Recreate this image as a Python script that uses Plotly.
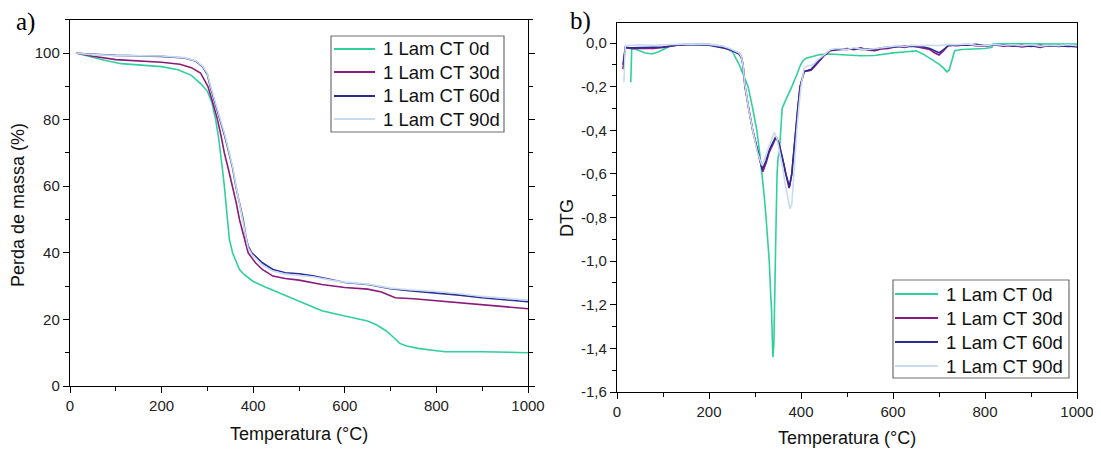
import plotly.graph_objects as go

# ---------------- data: TGA (panel a) ----------------
tga_0d_x = [13, 40, 75, 112, 150, 200, 236, 265, 287, 300, 310, 318, 324, 329, 333, 337, 340, 343, 348, 355,
            362, 370, 380, 393, 400, 425, 450, 500, 550, 600, 650, 670, 690, 705, 720, 735, 760, 800, 820, 900, 1000]
tga_0d_y = [100, 99.0, 97.8, 96.8, 96.4, 95.9, 95.0, 93.3, 90.6, 88.5, 85, 80, 75, 70, 65, 60, 55, 50, 44, 40,
            37.5, 35, 33.5, 32, 31.4, 29.8, 28.4, 25.4, 22.6, 21.0, 19.5, 18.3, 16.6, 14.8, 12.8, 12.0, 11.3, 10.6, 10.3, 10.3, 10.0]

tga_30d_x = [13, 50, 100, 150, 200, 240, 265, 285, 301, 312, 322, 330, 337, 346, 355, 363, 370, 380, 389, 405,
             420, 443, 470, 500, 550, 600, 650, 680, 700, 710, 750, 800, 900, 1000]
tga_30d_y = [100, 99, 98, 97.6, 97.2, 96.6, 95.6, 94, 90, 85, 80, 75, 70, 65, 60, 55, 50, 45, 40, 37,
             35, 33, 32.3, 31.8, 30.5, 29.6, 29.1, 28.2, 27, 26.5, 26.2, 25.6, 24.4, 23.2]

tga_60d_x = [13, 40, 100, 200, 250, 275, 290, 300, 306, 317, 328, 338, 347, 355, 362, 370, 378, 384, 389, 397,
             405, 420, 443, 470, 500, 530, 570, 600, 650, 675, 700, 740, 800, 850, 900, 1000]
tga_60d_y = [100, 99.7, 99.3, 99.0, 98.5, 97.5, 95.8, 93.5, 90, 85, 80, 75, 70, 65.5, 60, 55, 50, 45, 42, 40,
             39, 37, 35, 34, 33.7, 33.1, 32, 31.1, 30.5, 29.9, 29.2, 28.6, 28, 27.3, 26.5, 25.3]

tga_90d_x = [13, 40, 100, 200, 250, 275, 290, 300, 306, 317, 328, 338, 347, 355, 362, 370, 378, 384, 389, 397,
             405, 420, 443, 470, 500, 530, 570, 600, 650, 675, 700, 740, 800, 850, 900, 1000]
tga_90d_y = [100, 99.6, 99.2, 99.1, 98.6, 97.6, 96, 93.8, 90.5, 85.5, 80.5, 75.5, 70.5, 66, 60.5, 55, 50, 45, 41.5, 39.5,
             38.3, 36.3, 34.5, 33.6, 33.2, 32.8, 31.8, 31.2, 30.6, 30, 29.4, 28.9, 28.4, 27.7, 26.9, 25.8]

# ---------------- data: DTG (panel b) ----------------
dtg_0d_x = [30, 32, 42, 60, 76, 91, 105, 118, 150, 200, 230, 251, 266, 276, 285, 295, 304, 310, 315.6, 320, 324,
            328, 331, 334, 336, 337.5, 339, 341, 343, 344.5, 346, 348, 350, 353, 356, 359, 365, 372, 380, 390,
            399, 405, 411, 425, 441, 460, 500, 530, 560, 600, 630, 650, 665, 677, 690, 700, 710, 717, 722, 728,
            734, 750, 800, 815, 818, 850, 900, 950, 1000]
dtg_0d_y = [-0.18, -0.025, -0.03, -0.045, -0.05, -0.04, -0.025, -0.012, -0.005, -0.006, -0.015, -0.04, -0.1, -0.15,
            -0.2, -0.3, -0.4, -0.5, -0.6, -0.7, -0.8, -0.9, -1.0, -1.15, -1.22, -1.35, -1.44, -1.38, -1.2, -1.0,
            -0.8, -0.6, -0.53, -0.5, -0.38, -0.3, -0.27, -0.24, -0.2, -0.15, -0.1, -0.08, -0.07, -0.062, -0.053,
            -0.05, -0.055, -0.058, -0.057, -0.045, -0.04, -0.036, -0.05, -0.066, -0.085, -0.097, -0.115, -0.132,
            -0.125, -0.08, -0.035, -0.03, -0.025, -0.02, -0.003, -0.003, -0.004, -0.003, -0.005]

dtg_30d_x = [13, 18, 30, 50, 80, 100, 130, 160, 200, 230, 245, 255, 265, 270, 274, 278, 286, 295, 306, 317, 324,
             331, 338, 346, 352, 357, 362, 367, 374, 380, 384, 388, 393, 398, 407, 415, 422, 433, 449, 464, 480,
             500, 515, 530, 545, 560, 575, 590, 610, 625, 640, 660, 680, 690, 700, 710, 720, 740, 760, 780, 800,
             820, 840, 860, 880, 900, 920, 940, 960, 980, 1000]
dtg_30d_y = [-0.12, -0.02, -0.025, -0.025, -0.025, -0.02, -0.01, -0.005, -0.008, -0.02, -0.03, -0.035, -0.045,
             -0.06, -0.1, -0.2, -0.3, -0.4, -0.5, -0.59, -0.55, -0.5, -0.47, -0.43, -0.46, -0.5, -0.55, -0.6,
             -0.665, -0.6, -0.5, -0.4, -0.3, -0.2, -0.13, -0.128, -0.125, -0.1, -0.06, -0.035, -0.03, -0.025,
             -0.03, -0.022, -0.032, -0.035, -0.027, -0.025, -0.015, -0.02, -0.012, -0.02, -0.03, -0.045, -0.055,
             -0.035, -0.01, -0.012, -0.006, -0.012, -0.015, -0.008, -0.014, -0.01, -0.018, -0.012, -0.02, -0.01,
             -0.016, -0.012, -0.018]

dtg_60d_x = [13, 18, 30, 50, 80, 100, 130, 160, 200, 230, 245, 255, 265, 270, 274, 278, 286, 295, 306, 316, 324,
             331, 338, 345, 352, 357, 362, 367, 375, 380, 384, 388, 393, 398, 407, 415, 422, 433, 449, 464, 480,
             500, 515, 530, 545, 560, 575, 590, 610, 625, 640, 660, 680, 690, 700, 710, 720, 740, 760, 780, 800,
             820, 840, 860, 880, 900, 920, 940, 960, 980, 1000]
dtg_60d_y = [-0.1, -0.02, -0.022, -0.02, -0.02, -0.018, -0.01, -0.006, -0.01, -0.02, -0.028, -0.04, -0.05,
             -0.065, -0.1, -0.19, -0.3, -0.4, -0.5, -0.58, -0.54, -0.49, -0.46, -0.43, -0.46, -0.5, -0.55, -0.6,
             -0.66, -0.6, -0.5, -0.4, -0.3, -0.2, -0.13, -0.125, -0.12, -0.095, -0.058, -0.033, -0.028, -0.03,
             -0.025, -0.03, -0.028, -0.03, -0.022, -0.02, -0.018, -0.014, -0.016, -0.015, -0.025, -0.035, -0.045,
             -0.03, -0.012, -0.008, -0.01, -0.006, -0.012, -0.01, -0.008, -0.015, -0.01, -0.016, -0.01, -0.015,
             -0.012, -0.016, -0.014]

dtg_90d_x = [15, 18, 30, 50, 80, 100, 130, 160, 200, 230, 245, 255, 265, 270, 274, 278, 286, 295, 305, 315, 323,
             331, 336, 342, 348, 354, 360, 366, 372, 376, 380, 384, 388, 391, 396, 400, 407, 415, 425, 435, 449,
             464, 480, 500, 515, 530, 545, 560, 575, 590, 610, 625, 640, 660, 680, 700, 720, 740, 760, 780, 800,
             820, 840, 860, 880, 900, 920, 940, 960, 980, 1000]
dtg_90d_y = [-0.18, -0.012, -0.01, -0.008, -0.01, -0.008, -0.006, -0.004, -0.006, -0.015, -0.025, -0.035, -0.045,
             -0.06, -0.1, -0.19, -0.3, -0.4, -0.5, -0.56, -0.52, -0.47, -0.44, -0.41, -0.44, -0.5, -0.57, -0.65,
             -0.72, -0.76, -0.74, -0.6, -0.48, -0.4, -0.28, -0.2, -0.11, -0.105, -0.1, -0.08, -0.055, -0.03,
             -0.025, -0.03, -0.022, -0.028, -0.03, -0.025, -0.02, -0.018, -0.012, -0.016, -0.01, -0.012, -0.01,
             -0.012, -0.006, -0.008, -0.004, -0.01, -0.012, -0.006, -0.01, -0.008, -0.012, -0.008, -0.014, -0.01,
             -0.012, -0.008, -0.012]

series_names = ["1 Lam CT 0d", "1 Lam CT 30d", "1 Lam CT 60d", "1 Lam CT 90d"]
series_colors = ["#2fd09c", "#8a1a7c", "#2c2a95", "#c8dbef"]

x_ticks = [0, 200, 400, 600, 800, 1000]
tga_y_ticks = [0, 20, 40, 60, 80, 100]
dtg_y_ticks = [0.0, -0.2, -0.4, -0.6, -0.8, -1.0, -1.2, -1.4, -1.6]
dtg_y_ticktext = ["0,0", "-0,2", "-0,4", "-0,6", "-0,8", "-1,0", "-1,2", "-1,4", "-1,6"]

FONT = "Liberation Sans, Arial, sans-serif"
W, H = 1101, 452
OFF = 8  # page body margin of the html page

fig = go.Figure()

tga = [(tga_0d_x, tga_0d_y), (tga_30d_x, tga_30d_y), (tga_60d_x, tga_60d_y), (tga_90d_x, tga_90d_y)]
dtg = [(dtg_0d_x, dtg_0d_y), (dtg_30d_x, dtg_30d_y), (dtg_60d_x, dtg_60d_y), (dtg_90d_x, dtg_90d_y)]

for (xs, ys), name, col in zip(tga, series_names, series_colors):
    fig.add_trace(go.Scatter(x=xs, y=ys, mode="lines", name=name, line=dict(color=col, width=1.6),
                             xaxis="x", yaxis="y", showlegend=False))
for (xs, ys), name, col in zip(dtg, series_names, series_colors):
    fig.add_trace(go.Scatter(x=xs, y=ys, mode="lines", name=name, line=dict(color=col, width=1.6),
                             xaxis="x2", yaxis="y2", showlegend=False))


def px_x(p):
    return (p - OFF) / W


def px_y(p):
    return 1 - (p - OFF) / H


axis_common = dict(showline=True, linecolor="black", linewidth=1.4, ticks="outside", ticklen=6, tickwidth=1.3,
                   tickcolor="black", showgrid=False, zeroline=False, automargin=False,
                   tickfont=dict(family=FONT, size=15, color="#222"))
minor_x = dict(dtick=100, ticklen=3.5, tickwidth=1.2, tickcolor="black", ticks="outside", showgrid=False)

fig.update_layout(
    width=W, height=H, margin=dict(l=0, r=0, t=0, b=0, autoexpand=False),
    paper_bgcolor="white", plot_bgcolor="white", showlegend=False,
    xaxis=dict(domain=[px_x(70), px_x(528)], range=[0, 1000], tickvals=x_ticks, mirror=True, anchor="y",
               minor=minor_x, **axis_common),
    yaxis=dict(domain=[px_y(386), px_y(19.7)], range=[0, 110], tickvals=tga_y_ticks, mirror="ticks", anchor="x",
               minor=dict(dtick=10, ticklen=3.5, tickwidth=1.2, tickcolor="black", ticks="outside", showgrid=False),
               **axis_common),
    xaxis2=dict(domain=[px_x(617), px_x(1077)], range=[0, 1000], tickvals=x_ticks, mirror=True, anchor="y2",
                minor=minor_x, **axis_common),
    yaxis2=dict(domain=[px_y(392), px_y(23.4)], range=[-1.6, 0.09], tickvals=dtg_y_ticks, ticktext=dtg_y_ticktext,
                mirror=True, anchor="x2",
                minor=dict(tickvals=[-1.5, -1.3, -1.1, -0.9, -0.7, -0.5, -0.3, -0.1], ticklen=3.5, tickwidth=1.2,
                           tickcolor="black", ticks="outside", showgrid=False),
                **axis_common),
)

# ---- legends (drawn as box + line samples + text) ----
shapes = []
annotations = []


def add_legend(x0, x1, y0, y1, row_y, line_x0, line_x1, text_x):
    shapes.append(dict(type="rect", xref="paper", yref="paper", x0=px_x(x0), x1=px_x(x1), y0=px_y(y1), y1=px_y(y0),
                       line=dict(color="#6e6e6e", width=1.2), fillcolor="white", layer="above"))
    for ry, name, col in zip(row_y, series_names, series_colors):
        shapes.append(dict(type="line", xref="paper", yref="paper", x0=px_x(line_x0), x1=px_x(line_x1),
                           y0=px_y(ry), y1=px_y(ry), line=dict(color=col, width=1.8), layer="above"))
        annotations.append(dict(text=name, x=px_x(text_x), y=px_y(ry), xanchor="left", yanchor="middle",
                                font=dict(family=FONT, size=18.5, color="#111")))


add_legend(331, 504, 36, 132, [49, 72, 96, 119], 334, 375, 381)
add_legend(893, 1069, 280, 378, [294, 318, 342, 366], 895, 938, 944)

annotations += [
    dict(text="a)", x=px_x(25), y=px_y(22), xanchor="center", yanchor="middle",
         font=dict(family="Liberation Serif, Times New Roman, serif", size=25, color="black")),
    dict(text="b)", x=px_x(580), y=px_y(21), xanchor="center", yanchor="middle",
         font=dict(family="Liberation Serif, Times New Roman, serif", size=25, color="black")),
    dict(text="Temperatura (°C)", x=px_x(299), y=px_y(434), xanchor="center", yanchor="middle",
         font=dict(family=FONT, size=18, color="#111")),
    dict(text="Temperatura (°C)", x=px_x(847), y=px_y(438), xanchor="center", yanchor="middle",
         font=dict(family=FONT, size=18, color="#111")),
    dict(text="Perda de massa (%)", x=px_x(18), y=px_y(205), textangle=-90, xanchor="center", yanchor="middle",
         font=dict(family=FONT, size=18, color="#111")),
    dict(text="DTG", x=px_x(567), y=px_y(218), textangle=-90, xanchor="center", yanchor="middle",
         font=dict(family=FONT, size=18, color="#111")),
]
for a in annotations:
    a.update(xref="paper", yref="paper", showarrow=False)

fig.update_layout(shapes=shapes, annotations=annotations)

fig.write_html("out.html")
